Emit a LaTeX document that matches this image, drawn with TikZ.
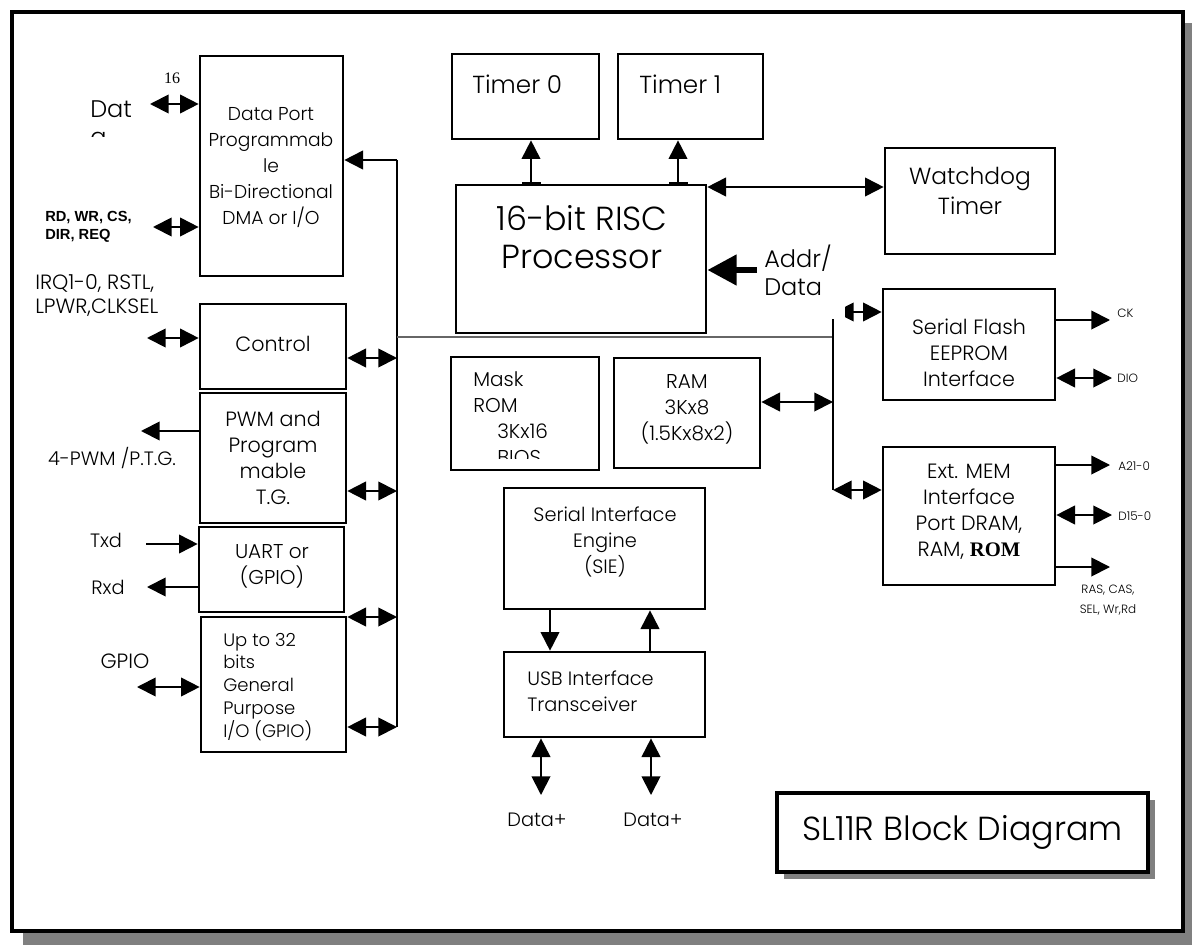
\documentclass[tikz,border=0pt]{standalone}
\usepackage{fontspec}
\setmainfont{Poppins}[UprightFont=* Light, BoldFont=* Medium]
\newfontfamily\lsans{Liberation Sans}
\newfontfamily\lserif{Liberation Serif}
\usetikzlibrary{arrows.meta}
\newcommand\fs[2]{\fontsize{#1}{#2}\selectfont}
\newcommand\bx[5]{\node[blk, minimum width={(#4-#2)*0.75pt}, minimum height={(#5-#3)*0.75pt}] (#1) at ({(#2+#4)/2},{(#3+#5)/2}) {};}
\tikzset{
  blk/.style={draw, line width=2pt, inner sep=0pt, fill=white},
  conn/.style={line width=1.4pt},
  arr/.style={conn, -{Triangle[length=14pt,width=14pt]}},
  darr/.style={conn, {Triangle[length=14pt,width=14pt]}-{Triangle[length=14pt,width=14pt]}},
  txt/.style={inner sep=0pt, align=center},
  ltxt/.style={inner sep=0pt, align=left},
}
\begin{document}
\begin{tikzpicture}[x=0.75pt,y=-0.75pt]
\useasboundingbox (0,0) rectangle (1192,945);
% frame with shadow
\fill[black!50] (23,23) rectangle (1192,945);
\draw[line width=3.4pt, fill=white] (12,12) rectangle (1183,931);

% boxes
\bx{dp}{200}{56}{343}{276}
\bx{ctl}{200}{304}{346}{389}
\bx{pwm}{200}{393}{346}{523}
\bx{uart}{199}{527}{344}{612}
\bx{gpio}{201}{617}{346}{752}
\bx{t0}{452}{54}{599}{139}
\bx{t1}{618}{54}{763}{139}
\bx{cpu}{456}{185}{706}{333}
\bx{wd}{885}{148}{1055}{254}
\bx{sf}{883}{289}{1055}{400}
\bx{em}{883}{447}{1055}{585}
\bx{rom}{451}{357}{599}{470}
\bx{ram}{614}{358}{760}{468}
\bx{sie}{504}{488}{705}{609}
\bx{usb}{504}{652}{705}{737}

% title box
\fill[black!50] (784,800) rectangle (1155,879);
\node[draw, line width=3.2pt, fill=white, minimum width={371*0.75pt}, minimum height={79*0.75pt}, inner sep=0pt, font=\fs{25}{30}] (ttl) at (962.5,832.5) {SL11R Block Diagram};

% coordinates
\coordinate (datL) at (150,104);
\coordinate (rdL) at (153,227);
\coordinate (busT) at (397,160);
\coordinate (busB) at (397,727);
\coordinate (b1) at (397,358);
\coordinate (b2) at (397,491);
\coordinate (b3) at (397,617);
\coordinate (b4) at (397,727);
\coordinate (ctlL) at (147,338);
\coordinate (pwmL) at (141,431);
\coordinate (txdL) at (146,544);
\coordinate (rxdL) at (147,587);
\coordinate (gpL) at (137,687);
\coordinate (hL) at (397,337);
\coordinate (rbT) at (833,319);
\coordinate (rbB) at (833,490);
\coordinate (hR) at (833,337);
\coordinate (rr) at (833,402);
\coordinate (sfL) at (835,312);
\coordinate (ckR) at (1110,320);
\coordinate (dioR) at (1112,378);
\coordinate (aR) at (1110,465);
\coordinate (dR) at (1112,515);
\coordinate (rasR) at (1110,567);
\coordinate (addr) at (757,270);
\coordinate (wdy) at (706,187);
\coordinate (u1) at (541,795);
\coordinate (u2) at (651,795);

% left bus
\draw[conn] (busT) -- (busB);
\draw[arr] (busT) -- (busT -| dp.east);
\draw[darr] (b1 -| ctl.east) -- (b1);
\draw[darr] (b2 -| pwm.east) -- (b2);
\draw[darr] (b3 -| gpio.east) -- (b3);
\draw[darr] (b4 -| gpio.east) -- (b4);
\draw[line width=1pt, black!60] (hL) -- (hR);
% right bus
\draw[conn] (rbT) -- (rbB);
\draw[darr] (rr -| ram.east) -- (rr);
\draw[darr] (rbB) -- (rbB -| em.west);
\begin{scope}
\clip (845,290) rectangle (890,335);
\draw[darr] (sfL) -- (sfL -| sf.west);
\end{scope}

% left side signals
\draw[darr] (datL) -- (datL -| dp.west);
\draw[darr] (rdL) -- (rdL -| dp.west);
\draw[darr] (ctlL) -- (ctlL -| ctl.west);
\draw[arr] (pwmL -| pwm.west) -- (pwmL);
\draw[arr] (txdL) -- (txdL -| uart.west);
\draw[arr] (rxdL -| uart.west) -- (rxdL);
\draw[darr] (gpL) -- (gpL -| gpio.west);

% cpu connections
\draw[arr] (cpu.north -| 531,0) -- (t0.south -| 531,0);
\draw[arr] (cpu.north -| 678,0) -- (t1.south -| 678,0);
\draw[line width=1.6pt] (522,183.5) -- (541,183.5);
\draw[line width=1.6pt] (669,183.5) -- (688,183.5);
\draw[darr] (wdy -| cpu.east) -- (wdy -| wd.west);
\draw[line width=5pt, -{Triangle[length=22pt,width=22pt]}] (addr) -- (addr -| cpu.east);

% right side signals
\draw[arr] (ckR -| sf.east) -- (ckR);
\draw[darr] (dioR -| sf.east) -- (dioR);
\draw[arr] (aR -| em.east) -- (aR);
\draw[darr] (dR -| em.east) -- (dR);
\draw[arr] (rasR -| em.east) -- (rasR);

% SIE / USB
\draw[arr] (sie.south -| 550,0) -- (usb.north -| 550,0);
\draw[arr] (usb.north -| 650,0) -- (sie.south -| 650,0);
\draw[darr] (usb.south -| u1) -- (u1);
\draw[darr] (usb.south -| u2) -- (u2);

% texts
\node[txt, font=\lserif\fs{12}{14}] (n16) at (172,78) {16};
\node[ltxt, anchor=west, font=\fs{18}{22}] (dat) at (90,109) {Dat};
\begin{scope}
\clip (85,129) rectangle (140,137);
\node[ltxt, anchor=base west, font=\fs{18}{22}] (data2) at (90,146) {a};
\end{scope}
\node[ltxt, anchor=west, font=\lsans\bfseries\fs{11}{13.5}] (rdt) at (45,227) {RD, WR, CS,\\DIR, REQ};
\node[txt, font=\fs{14}{19.5}] (dpt) at (271,168) {Data Port\\Programmab\\le\\Bi-Directional\\DMA or I/O};
\node[ltxt, anchor=west, font=\fs{15.5}{18}] (irq) at (35,295) {IRQ1-0, RSTL,\\LPWR,CLKSEL};
\node[txt, font=\fs{15.5}{19}] (ctlt) at (273,344) {Control};
\node[txt, font=\fs{15.5}{19.5}] (pwmt) at (273,458) {PWM and\\Program\\mable\\T.G.};
\node[txt, font=\fs{14.5}{18}] (pwml) at (112,458) {4-PWM /P.T.G.};
\node[txt, font=\fs{15}{19.5}] (uartt) at (272,566) {UART or\\(GPIO)};
\node[txt, font=\fs{14.5}{18}] (txd) at (106,540) {Txd};
\node[txt, font=\fs{14.5}{18}] (rxd) at (108,587) {Rxd};
\node[txt, font=\fs{15.5}{18}] (gpl) at (125,661) {GPIO};
\node[ltxt, anchor=west, font=\fs{13.5}{17.2}] (gpt) at (223,687) {Up to 32\\bits\\General\\Purpose\\I/O (GPIO)};
\node[ltxt, anchor=west, font=\fs{18.5}{22}] (t0t) at (472,84) {Timer 0};
\node[ltxt, anchor=west, font=\fs{18.5}{22}] (t1t) at (639,84) {Timer 1};
\node[txt, font=\fs{25}{28.5}] (cput) at (582,237) {16-bit RISC\\Processor};
\node[ltxt, anchor=west, font=\fs{18}{21}] (addrt) at (764,270) {Addr/\\Data};
\node[txt, font=\fs{17.5}{22.5}] (wdt) at (970,191) {Watchdog\\Timer};
\node[txt, font=\fs{15.5}{19.5}] (sft) at (969,353) {Serial Flash\\EEPROM\\Interface};
\node[txt, font=\fs{15.5}{19.5}] (emt) at (969,512) {Ext. MEM\\Interface\\Port DRAM,\\RAM, {\lserif\bfseries ROM}};
\begin{scope}
\clip (451,357) rectangle (599,458);
\node[ltxt, anchor=north west, font=\fs{15}{19.5}] (romt) at (473,371) {Mask\\ROM\\\hspace*{18pt}3Kx16\\\hspace*{18pt}BIOS};
\end{scope}
\node[txt, font=\fs{15}{19.5}] (ramt) at (687,409) {RAM\\3Kx8\\(1.5Kx8x2)};
\node[txt, font=\fs{14.5}{19.5}] (siet) at (605,542) {Serial Interface\\Engine\\(SIE)};
\node[ltxt, anchor=west, font=\fs{14.5}{19.5}] (usbt) at (527,691) {USB Interface\\Transceiver};
\node[txt, font=\fs{14.5}{18}] (dp1) at (537,820) {Data+};
\node[txt, font=\fs{14.5}{18}] (dp2) at (653,820) {Data+};
\node[ltxt, anchor=west, font=\fs{9}{11}] (ckt) at (1117,313) {CK};
\node[ltxt, anchor=west, font=\fs{9}{11}] (diot) at (1117,378) {DIO};
\node[ltxt, anchor=west, font=\fs{9}{11}] (at) at (1118,466) {A21-0};
\node[ltxt, anchor=west, font=\fs{9}{11}] (dt) at (1118,516) {D15-0};
\node[txt, font=\fs{9}{15}] (rast) at (1108,600) {RAS, CAS,\\SEL, Wr,Rd};
\end{tikzpicture}
\end{document}
